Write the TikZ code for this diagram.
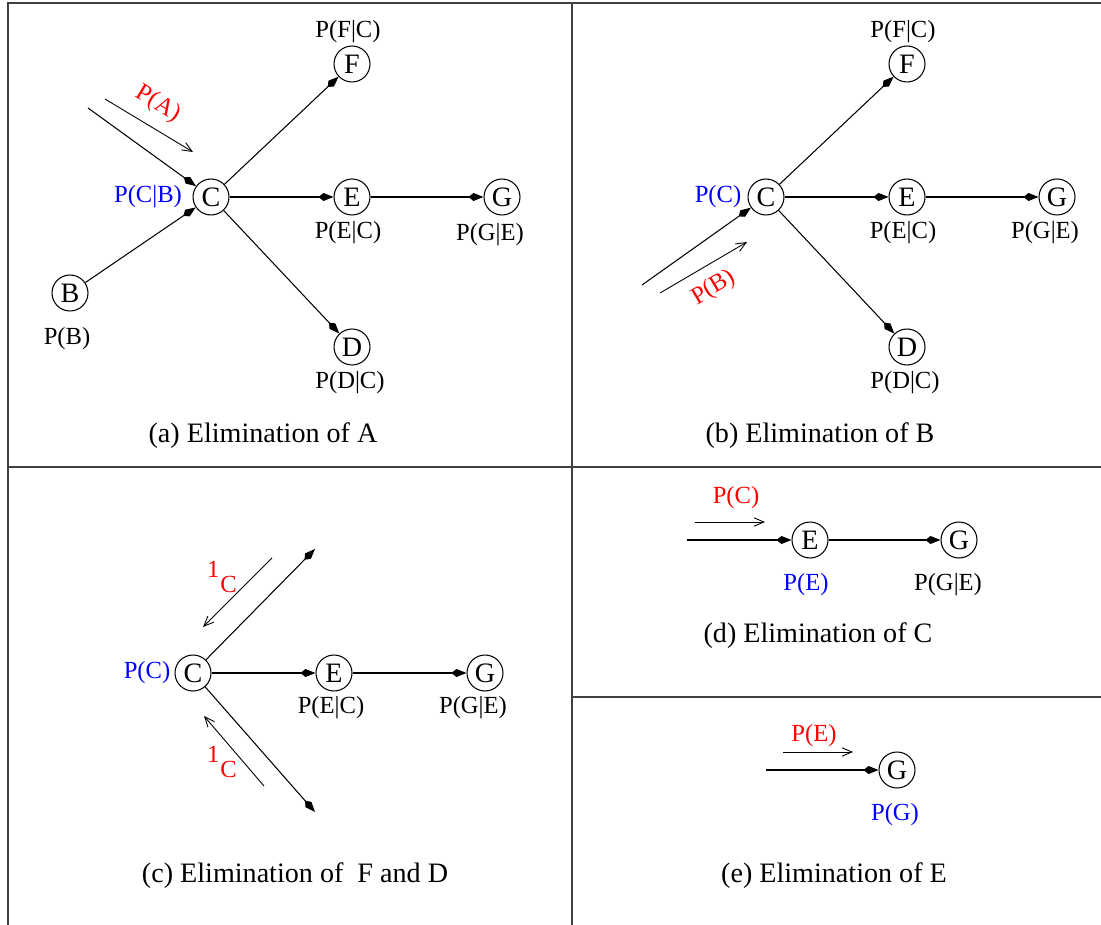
\documentclass[tikz,border=0pt]{standalone}
\usepackage{fontspec}
\setmainfont{Liberation Serif}
\usetikzlibrary{arrows.meta}

\begin{document}
\begin{tikzpicture}[x=0.02cm,y=-0.02cm,font=\fontsize{14}{16}\selectfont]
  \tikzset{
    var/.style={draw,circle,minimum size=0.72cm,inner sep=0pt,line width=0.6pt,font=\fontsize{16}{18}\selectfont},
    arr/.style={-{Kite[length=0.3cm,width=0.16cm,inset=0.1cm]},line width=0.6pt},
    msg/.style={-{Straight Barb[length=0.2cm,width=0.17cm]},line width=0.5pt},
    frame/.style={draw=black!75,line width=0.9pt},
    subcap/.style={font=\fontsize{16}{18}\selectfont},
    inmsg/.style={text=red},
    belief/.style={text=blue}
  }
  \useasboundingbox (0,0) rectangle (1101,925);

  % Panel frame
  \draw[frame] (8,925) -- (8,3) -- (1101,3);
  \draw[frame] (572,3) -- (572,925);
  \draw[frame] (8,467) -- (1101,467);
  \draw[frame] (572,697) -- (1101,697);

  % (a) Elimination of A
  \node[var] (Ca) at (211,197) {C};
  \node[var] (Fa) at (352,64) {F};
  \node[var] (Ea) at (352,197) {E};
  \node[var] (Ga) at (502,197) {G};
  \node[var] (Ba) at (70,293) {B};
  \node[var] (Da) at (352,347) {D};
  \coordinate (ina) at (88,108);
  \draw[arr] (ina) -- (Ca);
  \draw[arr] (Ba) -- (Ca);
  \draw[arr] (Ca) -- (Fa);
  \draw[arr] (Ca) -- (Ea);
  \draw[arr] (Ca) -- (Da);
  \draw[arr] (Ea) -- (Ga);
  \coordinate (ma1) at (105,99);
  \coordinate (ma2) at (193,152);
  \draw[msg] (ma1) -- (ma2);
  \node[inmsg,rotate=-31] (pa) at (158,104) {P(A)};
  \node[belief] (pcb) at (148,197) {P(C|B)};
  \node (pfc) at (348,32) {P(F|C)};
  \node (pec) at (348,233) {P(E|C)};
  \node (pge) at (490,235) {P(G|E)};
  \node (pb) at (67,339) {P(B)};
  \node (pdc) at (350,383) {P(D|C)};
  \node[subcap] (capa) at (263,436) {(a) Elimination of A};

  % (b) Elimination of B
  \node[var] (Cb) at (766,197) {C};
  \node[var] (Fb) at (907,64) {F};
  \node[var] (Eb) at (907,197) {E};
  \node[var] (Gb) at (1057,197) {G};
  \node[var] (Db) at (907,347) {D};
  \coordinate (inb) at (642,285);
  \draw[arr] (inb) -- (Cb);
  \draw[arr] (Cb) -- (Fb);
  \draw[arr] (Cb) -- (Eb);
  \draw[arr] (Cb) -- (Db);
  \draw[arr] (Eb) -- (Gb);
  \coordinate (mb1) at (660,293);
  \coordinate (mb2) at (747,242);
  \draw[msg] (mb1) -- (mb2);
  \node[inmsg,rotate=31] (pbb) at (714,288) {P(B)};
  \node[belief] (pcc) at (718,197) {P(C)};
  \node (pfcb) at (903,32) {P(F|C)};
  \node (pecb) at (903,233) {P(E|C)};
  \node (pgeb) at (1045,233) {P(G|E)};
  \node (pdcb) at (905,383) {P(D|C)};
  \node[subcap] (capb) at (820,436) {(b) Elimination of B};

  % (c) Elimination of F and D
  \node[var] (Cc) at (193,673) {C};
  \node[var] (Ec) at (334,673) {E};
  \node[var] (Gc) at (485,673) {G};
  \coordinate (outf) at (315,549);
  \coordinate (outd) at (315,812);
  \draw[arr] (Cc) -- (outf);
  \draw[arr] (Cc) -- (outd);
  \draw[arr] (Cc) -- (Ec);
  \draw[arr] (Ec) -- (Gc);
  \coordinate (mf1) at (272,558);
  \coordinate (mf2) at (203,627);
  \draw[msg] (mf1) -- (mf2);
  \coordinate (md1) at (264,786);
  \coordinate (md2) at (204,716);
  \draw[msg] (md1) -- (md2);
  \node[inmsg] (onef) at (222,577) {\raisebox{0.62em}{1}\kern0.5pt C};
  \node[inmsg] (oned) at (222,762) {\raisebox{0.62em}{1}\kern0.5pt C};
  \node[belief] (pcc2) at (147,673) {P(C)};
  \node (pecc) at (331,708) {P(E|C)};
  \node (pgec) at (473,708) {P(G|E)};
  \node[subcap] (capc) at (295,876) {(c) Elimination of \ F and D};

  % (d) Elimination of C
  \node[var] (Ed) at (810,540) {E};
  \node[var] (Gd) at (959,540) {G};
  \coordinate (ind) at (687,540);
  \draw[arr] (ind) -- (Ed);
  \draw[arr] (Ed) -- (Gd);
  \coordinate (mc1) at (695,522);
  \coordinate (mc2) at (765,522);
  \draw[msg] (mc1) -- (mc2);
  \node[inmsg] (pcd) at (736,498) {P(C)};
  \node[belief] (ped) at (806,585) {P(E)};
  \node (pged) at (948,585) {P(G|E)};
  \node[subcap] (capd) at (818,636) {(d) Elimination of C};

  % (e) Elimination of E
  \node[var] (Ge) at (897,770) {G};
  \coordinate (ine) at (766,770);
  \draw[arr] (ine) -- (Ge);
  \coordinate (me1) at (783,752);
  \coordinate (me2) at (853,752);
  \draw[msg] (me1) -- (me2);
  \node[inmsg] (pee) at (814,736) {P(E)};
  \node[belief] (pge2) at (895,815) {P(G)};
  \node[subcap] (cape) at (834,876) {(e) Elimination of E};
\end{tikzpicture}
\end{document}
